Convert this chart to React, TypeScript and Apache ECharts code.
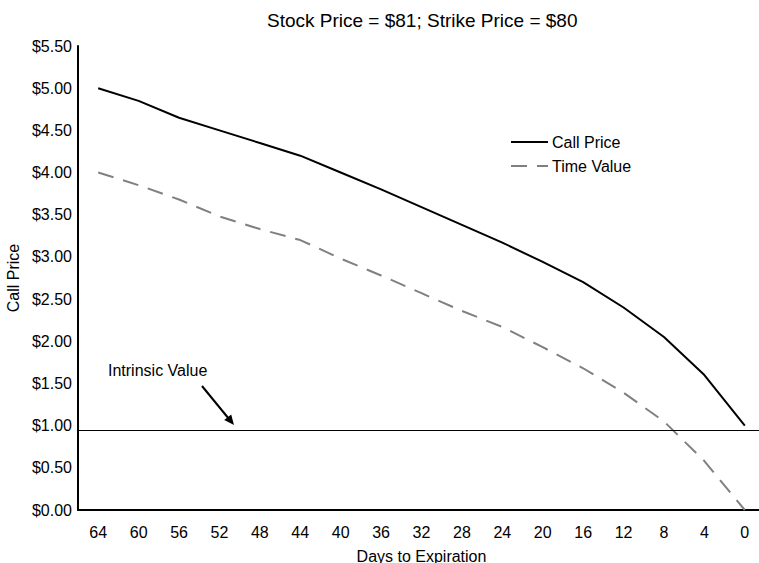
import React, { useEffect, useRef } from "react";
import * as echarts from "echarts";

const days: string[] = ["64", "60", "56", "52", "48", "44", "40", "36", "32", "28", "24", "20", "16", "12", "8", "4", "0"];
const callPrice: number[] = [5.0, 4.85, 4.65, 4.5, 4.35, 4.2, 4.0, 3.8, 3.59, 3.38, 3.17, 2.94, 2.7, 2.4, 2.05, 1.6, 1.0];
const timeValue: number[] = [4.0, 3.85, 3.68, 3.48, 3.33, 3.2, 2.98, 2.78, 2.57, 2.36, 2.17, 1.93, 1.68, 1.39, 1.05, 0.58, 0.0];
const intrinsicValue = 0.945;
const yTicks = { min: 0, max: 5.5, interval: 0.5 };

const FONT = "'Liberation Sans', Arial, Helvetica, sans-serif";

export default function App() {
  const ref = useRef<HTMLDivElement>(null);
  useEffect(() => {
    if (!ref.current) return;
    const chart = echarts.init(ref.current, null, { renderer: "svg" });
    const option: any = {
      animation: false,
      backgroundColor: "#ffffff",
      textStyle: { fontFamily: FONT, color: "#000" },
      title: {
        text: "Stock Price = $81; Strike Price = $80",
        left: 262,
        top: 6,
        textStyle: { fontFamily: FONT, fontSize: 19, fontWeight: "normal", color: "#000" },
      },
      legend: {
        orient: "vertical",
        left: 505,
        top: 129,
        itemWidth: 37,
        itemHeight: 14,
        itemGap: 8,
        itemStyle: { opacity: 0, color: "transparent", borderWidth: 0 },
        textStyle: { fontFamily: FONT, fontSize: 16, color: "#000", padding: [0, 0, 0, -1] },
        data: ["Call Price", "Time Value"],
      },
      grid: {
        left: 78,
        top: 46,
        bottom: 53,
        width: 687,
        containLabel: false,
        outerBoundsMode: "none",
      },
      xAxis: {
        type: "category",
        data: days,
        boundaryGap: true,
        name: "Days to Expiration",
        nameLocation: "middle",
        nameGap: 38,
        nameTextStyle: { fontFamily: FONT, fontSize: 16, color: "#000" },
        axisLine: { show: true, lineStyle: { color: "#000", width: 2 } },
        axisTick: { show: false },
        axisLabel: { fontFamily: FONT, fontSize: 16, color: "#000", margin: 14 },
        splitLine: { show: false },
      },
      yAxis: {
        type: "value",
        min: yTicks.min,
        max: yTicks.max,
        interval: yTicks.interval,
        name: "Call Price",
        nameLocation: "middle",
        nameGap: 53,
        nameTextStyle: { fontFamily: FONT, fontSize: 16, color: "#000" },
        axisLine: { show: true, lineStyle: { color: "#000", width: 2 } },
        axisTick: { show: false },
        splitLine: { show: false },
        axisLabel: {
          fontFamily: FONT,
          fontSize: 16,
          color: "#000",
          margin: 6,
          formatter: (v: number) => "$" + v.toFixed(2),
        },
      },
      series: [
        {
          name: "Call Price",
          type: "line",
          data: callPrice,
          symbol: "none",
          lineStyle: { color: "#000", width: 2 },
          itemStyle: { color: "#000" },
          markLine: {
            silent: true,
            symbol: ["none", "none"],
            label: { show: false },
            lineStyle: { color: "#000", width: 1, type: "solid" },
            data: [{ yAxis: intrinsicValue }],
          },
        },
        {
          name: "Time Value",
          type: "line",
          data: timeValue,
          symbol: "none",
          lineStyle: { color: "#808080", width: 2, type: [16, 10] },
          itemStyle: { color: "#808080" },
        },
      ],
      graphic: [
        {
          type: "text",
          left: 108,
          top: 362,
          style: { text: "Intrinsic Value", font: `16px ${FONT}`, fill: "#000" },
        },
        {
          type: "line",
          shape: { x1: 202, y1: 386, x2: 229, y2: 419 },
          style: { stroke: "#000", lineWidth: 2 },
        },
        {
          type: "polygon",
          shape: { points: [[234, 425], [224.2, 420.1], [231.2, 414.4]] },
          style: { fill: "#000" },
        },
      ],
    };
    chart.setOption(option);
    return () => chart.dispose();
  }, []);
  return (
    <div
      ref={ref}
      style={{ position: "fixed", left: 0, top: 0, width: 759, height: 563, background: "#fff" }}
    />
  );
}
